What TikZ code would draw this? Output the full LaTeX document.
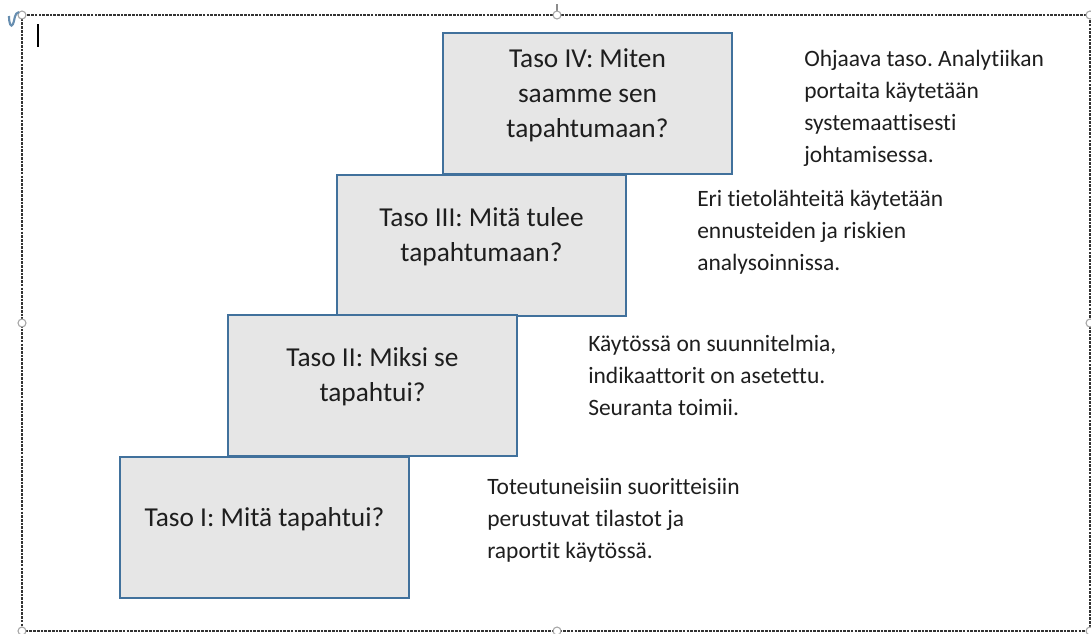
\documentclass[tikz,border=0pt]{standalone}
\usepackage{fontspec}
\setmainfont{Carlito}[Ligatures=NoCommon]
\frenchspacing
\usetikzlibrary{positioning}
\definecolor{stairblue}{HTML}{41719C}
\definecolor{stairgray}{HTML}{E6E6E6}
\definecolor{inkgray}{HTML}{1E1E1E}
\begin{document}
\begin{tikzpicture}[x=0.75pt, y=-0.75pt,
  stair/.style={draw=stairblue, fill=stairgray, line width=1.1pt, minimum width=216.75pt, minimum height=105.75pt, inner sep=0pt},
  stairtext/.style={align=center, inner sep=0pt, text=inkgray, font=\fontsize{20.5pt}{26.3pt}\selectfont},
  note/.style={anchor=north west, align=left, inner sep=0pt, text=inkgray, font=\fontsize{17.6pt}{24pt}\selectfont},
  frame/.style={draw=black!80, line width=1.3pt, dash pattern=on 2pt off 0.8pt},
  handle/.style={draw=black!35, fill=white, line width=0.8pt}]
\useasboundingbox (0,0) rectangle (1091,633);
% selection frame
\draw[frame] (22,15) rectangle (1090,631);
\draw[black!45, line width=0.8pt] (557,4) -- (557,11);
\foreach \hx/\hy in {22/15, 557/15, 1090/15, 22/323, 1090/323, 22/631, 557/631, 1090/631}
  \draw[handle] (\hx,\hy) circle[radius=4];
\draw[stairblue!80, line width=1.6pt] (9,16) .. controls (9,24) and (11,28) .. (13,24) .. controls (15,20) and (14,13) .. (19,12);
\draw[black, line width=0.9pt] (38,24) -- (38,47);
% steps
\node[stair] (s3) at (481.5,245.5) {};
\node[stair] (s4) at (587.5,103.5) {};
\node[stair] (s2) at (372.5,385.5) {};
\node[stair] (s1) at (264.5,527.5) {};
\node[stairtext] (q4) at ([yshift=6.3pt]s4.center) {Taso IV: Miten\\saamme sen\\tapahtumaan?};
\node[stairtext] (q3) at ([yshift=6.5pt]s3.center) {Taso III: Mitä tulee\\tapahtumaan?};
\node[stairtext] (q2) at ([yshift=6.5pt]s2.center) {Taso II: Miksi se\\tapahtui?};
\node[stairtext] (q1) at ([yshift=6pt]s1.center) {Taso I: Mitä tapahtui?};
% descriptions
\node[note] (n4) at (804,50) {Ohjaava taso. Analytiikan\\portaita käytetään\\systemaattisesti\\johtamisessa.};
\node[note] (n3) at (697,190) {Eri tietolähteitä käytetään\\ennusteiden ja riskien\\analysoinnissa.};
\node[note] (n2) at (588,335) {Käytössä on suunnitelmia,\\indikaattorit on asetettu.\\Seuranta toimii.};
\node[note] (n1) at (487,478) {Toteutuneisiin suoritteisiin\\perustuvat tilastot ja\\raportit käytössä.};
\end{tikzpicture}
\end{document}
